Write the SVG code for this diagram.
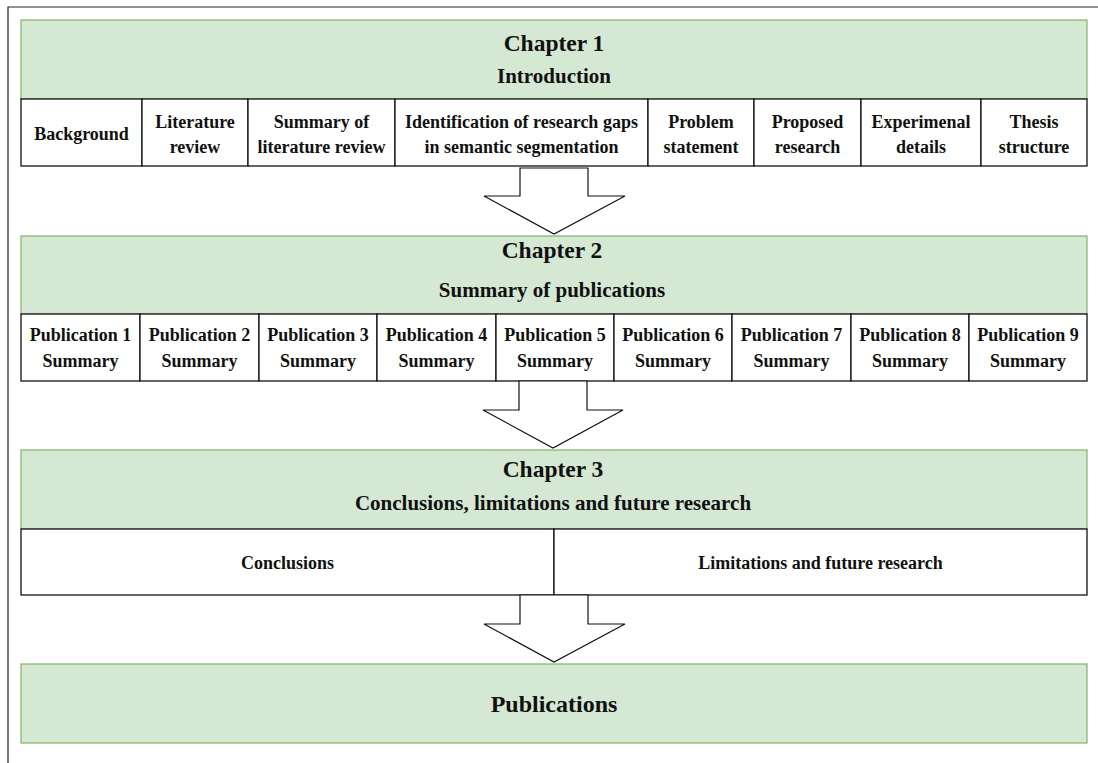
<svg xmlns="http://www.w3.org/2000/svg" width="1098" height="763" viewBox="0 0 1098 763">
<style>
text{font-family:"Liberation Serif","Times New Roman",serif;font-weight:bold;fill:#111;text-anchor:middle}
.g{fill:#d5e8d4;stroke:#82b366;stroke-width:1.2}
.c{fill:#fff;stroke:#111;stroke-width:1.3}
.a{fill:#fff;stroke:#111;stroke-width:1.2;stroke-linejoin:miter}
.t{font-size:23.5px}
.s{font-size:21px}
.n{font-size:18px}
.p{font-size:24px}
</style>
<g id="frame"><path d="M8 763V7H1098" fill="none" stroke="#222" stroke-width="1.2"/></g>

<g id="chapter1">
<rect class="g" x="21" y="20" width="1066" height="79"/>
<text class="t" x="554" y="51">Chapter 1</text>
<text class="s" x="554" y="83">Introduction</text>
</g>
<g id="ch1-cells">
<rect class="c" x="21" y="99" width="121" height="67"/>
<rect class="c" x="142" y="99" width="106" height="67"/>
<rect class="c" x="248" y="99" width="147" height="67"/>
<rect class="c" x="395" y="99" width="253" height="67"/>
<rect class="c" x="648" y="99" width="106" height="67"/>
<rect class="c" x="754" y="99" width="107" height="67"/>
<rect class="c" x="861" y="99" width="120" height="67"/>
<rect class="c" x="981" y="99" width="106" height="67"/>
<text class="n" x="81.5" y="140">Background</text>
<text class="n" x="195" y="128">Literature</text><text class="n" x="195" y="153">review</text>
<text class="n" x="321.5" y="128">Summary of</text><text class="n" x="321.5" y="153">literature review</text>
<text class="n" x="521.5" y="128">Identification of research gaps</text><text class="n" x="521.5" y="153">in semantic segmentation</text>
<text class="n" x="701" y="128">Problem</text><text class="n" x="701" y="153">statement</text>
<text class="n" x="807.5" y="128">Proposed</text><text class="n" x="807.5" y="153">research</text>
<text class="n" x="921" y="128">Experimenal</text><text class="n" x="921" y="153">details</text>
<text class="n" x="1034" y="128">Thesis</text><text class="n" x="1034" y="153">structure</text>
</g>

<g id="chapter2">
<rect class="g" x="21" y="236" width="1066" height="78"/>
<text class="t" x="552" y="258">Chapter 2</text>
<text class="s" x="552" y="297">Summary of publications</text>
</g>
<g id="ch2-cells">
<rect class="c" x="21" y="314" width="119" height="67"/>
<rect class="c" x="140" y="314" width="119" height="67"/>
<rect class="c" x="259" y="314" width="118" height="67"/>
<rect class="c" x="377" y="314" width="119" height="67"/>
<rect class="c" x="496" y="314" width="118" height="67"/>
<rect class="c" x="614" y="314" width="118" height="67"/>
<rect class="c" x="732" y="314" width="119" height="67"/>
<rect class="c" x="851" y="314" width="118" height="67"/>
<rect class="c" x="969" y="314" width="118" height="67"/>
<text class="n" x="80.5" y="341">Publication 1</text><text class="n" x="80.5" y="367">Summary</text>
<text class="n" x="199.5" y="341">Publication 2</text><text class="n" x="199.5" y="367">Summary</text>
<text class="n" x="318" y="341">Publication 3</text><text class="n" x="318" y="367">Summary</text>
<text class="n" x="436.5" y="341">Publication 4</text><text class="n" x="436.5" y="367">Summary</text>
<text class="n" x="555" y="341">Publication 5</text><text class="n" x="555" y="367">Summary</text>
<text class="n" x="673" y="341">Publication 6</text><text class="n" x="673" y="367">Summary</text>
<text class="n" x="791.5" y="341">Publication 7</text><text class="n" x="791.5" y="367">Summary</text>
<text class="n" x="910" y="341">Publication 8</text><text class="n" x="910" y="367">Summary</text>
<text class="n" x="1028" y="341">Publication 9</text><text class="n" x="1028" y="367">Summary</text>
</g>

<g id="chapter3">
<rect class="g" x="21" y="450" width="1066" height="79"/>
<text class="t" x="553" y="477">Chapter 3</text>
<text class="s" x="553" y="510">Conclusions, limitations and future research</text>
</g>
<g id="ch3-cells">
<rect class="c" x="21" y="529" width="533" height="66"/>
<rect class="c" x="554" y="529" width="533" height="66"/>
<text class="n" x="287.5" y="569">Conclusions</text>
<text class="n" x="820.5" y="569">Limitations and future research</text>
</g>

<g id="publications">
<rect class="g" x="21" y="664" width="1066" height="79"/>
<text class="p" x="554" y="712">Publications</text>
</g>

<g id="connectors">
<polygon class="a" points="520,168 588,168 588,196 625,196 554,234 484,196 520,196"/>
<polygon class="a" points="519,381 587,381 587,410 623,410 553,448 483,410 519,410"/>
<polygon class="a" points="520,595 588,595 588,624 625,624 554,662 484,624 520,624"/>
</g>
</svg>
